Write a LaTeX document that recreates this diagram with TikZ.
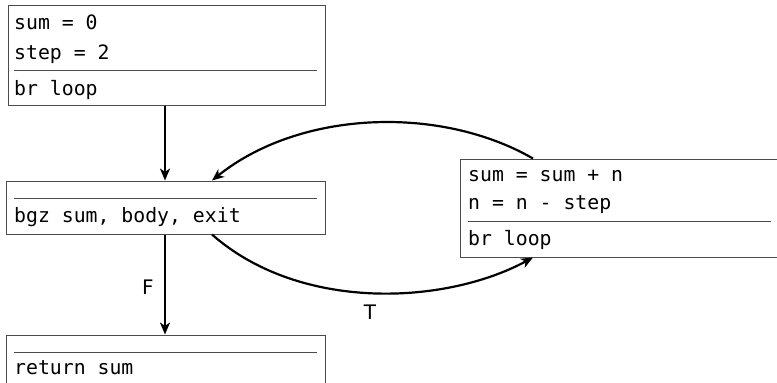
\documentclass[tikz,border=0pt]{standalone}
\usepackage{fontspec}
\setmainfont{DejaVu Sans}
\setmonofont{DejaVu Sans Mono}
\usetikzlibrary{arrows.meta}
\begin{document}
\begin{tikzpicture}[x=1pt,y=-1pt,
  blockbox/.style={draw=black!70, line width=1pt, rectangle, inner sep=0pt},
  codeline/.style={anchor=base west, inner sep=0pt, font=\fontsize{19.8}{22}\selectfont\ttfamily},
  rulesep/.style={draw=black!70, line width=1pt},
  flow/.style={draw=black, line width=2.2pt, -{Stealth[length=12pt,width=10pt,inset=3.5pt]}},
  edgelabel/.style={font=\fontsize{20}{24}\selectfont, inner sep=0pt}]
\useasboundingbox (0,0) rectangle (777,383);
% boxes
\node[blockbox, minimum width=317pt, minimum height=100pt] (A) at (166.5,55) {};
\node[blockbox, minimum width=319pt, minimum height=53pt] (B) at (165.5,207.5) {};
\node[blockbox, minimum width=319pt, minimum height=49pt] (C) at (165.5,359.5) {};
\node[blockbox, minimum width=317pt, minimum height=98pt] (D) at (619,208) {};
% text in A
\node[codeline] (a1) at (14,29) {sum = 0};
\node[codeline] (a2) at (14,59) {step = 2};
\draw[rulesep] (14,70) -- (317,70);
\node[codeline] (a3) at (14,95) {br loop};
% text in B
\draw[rulesep] (14,198) -- (317,198);
\node[codeline] (b1) at (14,222) {bgz sum, body, exit};
% text in C
\draw[rulesep] (14,352) -- (317,352);
\node[codeline] (c1) at (14,374) {return sum};
% text in D
\node[codeline] (d1) at (468,181) {sum = sum + n};
\node[codeline] (d2) at (468,209) {n = n - step};
\draw[rulesep] (468,221) -- (771,221);
\node[codeline] (d3) at (468,245) {br loop};
% connectors
\draw[flow] (A.south -| 165,0) -- (B.north -| 165,0);
\draw[flow] (B.south -| 165,0) -- (C.north -| 165,0);
\draw[flow] (D.north -| 533,0) .. controls (440,105) and (300,110) .. (B.north -| 212,0);
\draw[flow] (B.south -| 212,0) .. controls (300,312) and (445,305) .. (D.south -| 533,0);
% labels
\node[edgelabel] (lf) at (148,287) {F};
\node[edgelabel] (lt) at (370,312) {T};
\end{tikzpicture}
\end{document}
